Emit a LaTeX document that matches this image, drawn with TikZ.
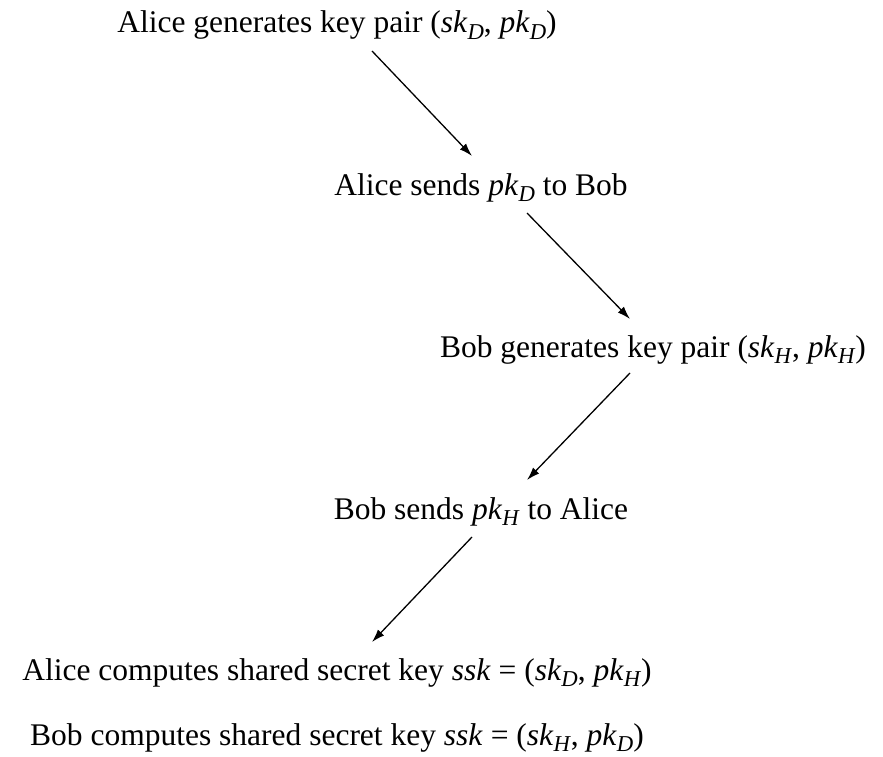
\documentclass[tikz,border=0pt]{standalone}
\usepackage{fontspec}
\usepackage{graphicx}
\setmainfont{Liberation Serif}
\usetikzlibrary{arrows.meta,calc}
\newcommand{\vsub}[2]{\textit{#1}\raisebox{-0.22em}{\scalebox{0.72}{\textit{#2}}}}
\begin{document}
\begin{tikzpicture}[x=1pt,y=-1pt,
  lbl/.style={anchor=base,inner sep=0pt,font=\fontsize{31.5}{36}\selectfont},
  conn/.style={-{Latex[length=13pt,width=8.5pt]},line width=1.3pt}]
\useasboundingbox (0,0) rectangle (883,757);
\node[lbl] (n1) at (337,33) {Alice generates key pair (\vsub{sk}{D}, \vsub{pk}{D})};
\node[lbl] (n2) at (481,195) {Alice sends \vsub{pk}{D} to Bob};
\node[lbl] (n3) at (653,357) {Bob generates key pair (\vsub{sk}{H}, \vsub{pk}{H})};
\node[lbl] (n4) at (481,519) {Bob sends \vsub{pk}{H} to Alice};
\node[lbl] (n5) at (337,680) {Alice computes shared secret key \textit{ssk} = (\vsub{sk}{D}, \vsub{pk}{H})};
\node[lbl] (n6) at (337,745) {Bob computes shared secret key \textit{ssk} = (\vsub{sk}{H}, \vsub{pk}{D})};
\draw[conn] ($(n1.base)+(35,18)$) -- ($(n2.base)+(-9,-39)$);
\draw[conn] ($(n2.base)+(46,18)$) -- ($(n3.base)+(-23,-38)$);
\draw[conn] ($(n3.base)+(-23,16)$) -- ($(n4.base)+(46,-39)$);
\draw[conn] ($(n4.base)+(-9,18)$) -- ($(n5.base)+(35,-38)$);
\end{tikzpicture}
\end{document}
